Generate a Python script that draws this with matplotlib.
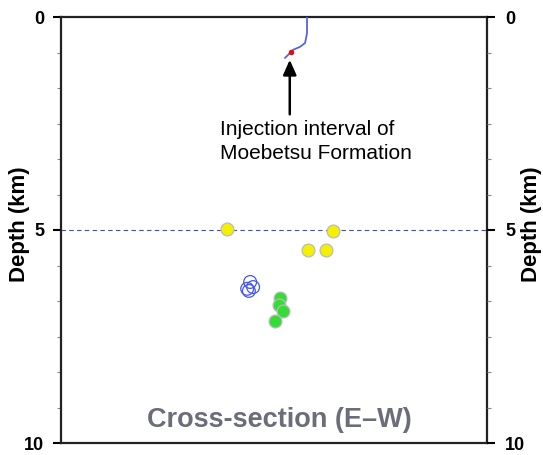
import numpy as np
import matplotlib.pyplot as plt
from matplotlib.ticker import MultipleLocator

plt.rcParams['font.family'] = ['Liberation Sans', 'DejaVu Sans']

# well trajectory (x in km E-W, depth in km)
well_x = [0.775, 0.775, 0.73, 0.61, 0.45, 0.376, 0.26]
well_z = [0.0, 0.376, 0.61, 0.70, 0.77, 0.845, 0.96]
inj_x, inj_z = 0.40, 0.82

# hypocenters
yellow_x = [-1.10, 1.38, 0.80, 1.22]
yellow_z = [4.98, 5.02, 5.47, 5.47]
blue_x = [-0.56, -0.63, -0.49, -0.59]
blue_z = [6.22, 6.38, 6.34, 6.43]
green_x = [0.14, 0.12, 0.21, 0.02]
green_z = [6.60, 6.76, 6.90, 7.14]

ref_depth = 5.0
depth_ticks = [0, 5, 10]

fig = plt.figure(figsize=(5.43, 4.55), dpi=100)
ax = fig.add_axes([61 / 543, 12 / 455, 426 / 543, 426 / 455])
ax.set_xlim(-5, 5)
ax.set_ylim(10, 0)

ax.axhline(ref_depth, color='#3355bb', lw=0.8, ls=(0, (4, 3)), zorder=1)

ax.plot(well_x, well_z, color='#5566dd', lw=1.3, zorder=3)
ax.plot(inj_x, inj_z, 'o', color='#dd1111', ms=3, zorder=4)

ax.scatter(yellow_x, yellow_z, s=85, c='#f5f000', edgecolors='#bbbbbb', linewidths=0.9, zorder=5)
ax.scatter(blue_x, blue_z, s=85, facecolors='none', edgecolors='#4455ee', linewidths=0.9, zorder=5)
ax.scatter(green_x, green_z, s=85, c='#33dd33', edgecolors='#bbbbbb', linewidths=0.9, zorder=5)

ax.annotate('', xy=(inj_x - 0.03, inj_z + 0.12), xytext=(inj_x - 0.03, 2.35),
            arrowprops=dict(arrowstyle='-|>,head_length=0.9,head_width=0.4', color='black', lw=1.8))
ax.text(-1.27, 2.42, 'Injection interval of\nMoebetsu Formation',
        fontsize=15, ha='left', va='top', linespacing=1.3)

ax.text(0.13, 9.45, 'Cross-section (E\u2013W)', fontsize=19.5, fontweight='bold',
        color='#6b6e78', ha='center', va='center')

ax.set_xticks([])
for side in ['left', 'right', 'top', 'bottom']:
    ax.spines[side].set_linewidth(1.6)
    ax.spines[side].set_color('#222222')

ax.set_yticks(depth_ticks)
ax.yaxis.set_minor_locator(MultipleLocator(5 / 6))
ax.tick_params(axis='y', which='major', length=6, width=1.5, labelsize=13, pad=6)
ax.tick_params(axis='y', which='minor', length=3, width=0.8, color='#888888')
for t in ax.get_yticklabels():
    t.set_fontweight('bold')

ax2 = ax.twinx()
ax2.set_ylim(10, 0)
ax2.set_yticks(depth_ticks)
ax2.yaxis.set_minor_locator(MultipleLocator(5 / 6))
ax2.tick_params(axis='y', which='major', length=6, width=1.5, labelsize=13, pad=7)
ax2.tick_params(axis='y', which='minor', length=3, width=0.8, color='#888888')
for t in ax2.get_yticklabels():
    t.set_fontweight('bold')
for side in ['left', 'right', 'top', 'bottom']:
    ax2.spines[side].set_visible(False)

# axis titles on both sides
for xpos in [(20 - 61) / 426, (532 - 61) / 426]:
    ax.text(xpos, (443 - 224) / 426, 'Depth (km)', transform=ax.transAxes,
            fontsize=16, fontweight='bold', rotation=90, ha='center', va='center')

fig.savefig('out.png', dpi=100)
